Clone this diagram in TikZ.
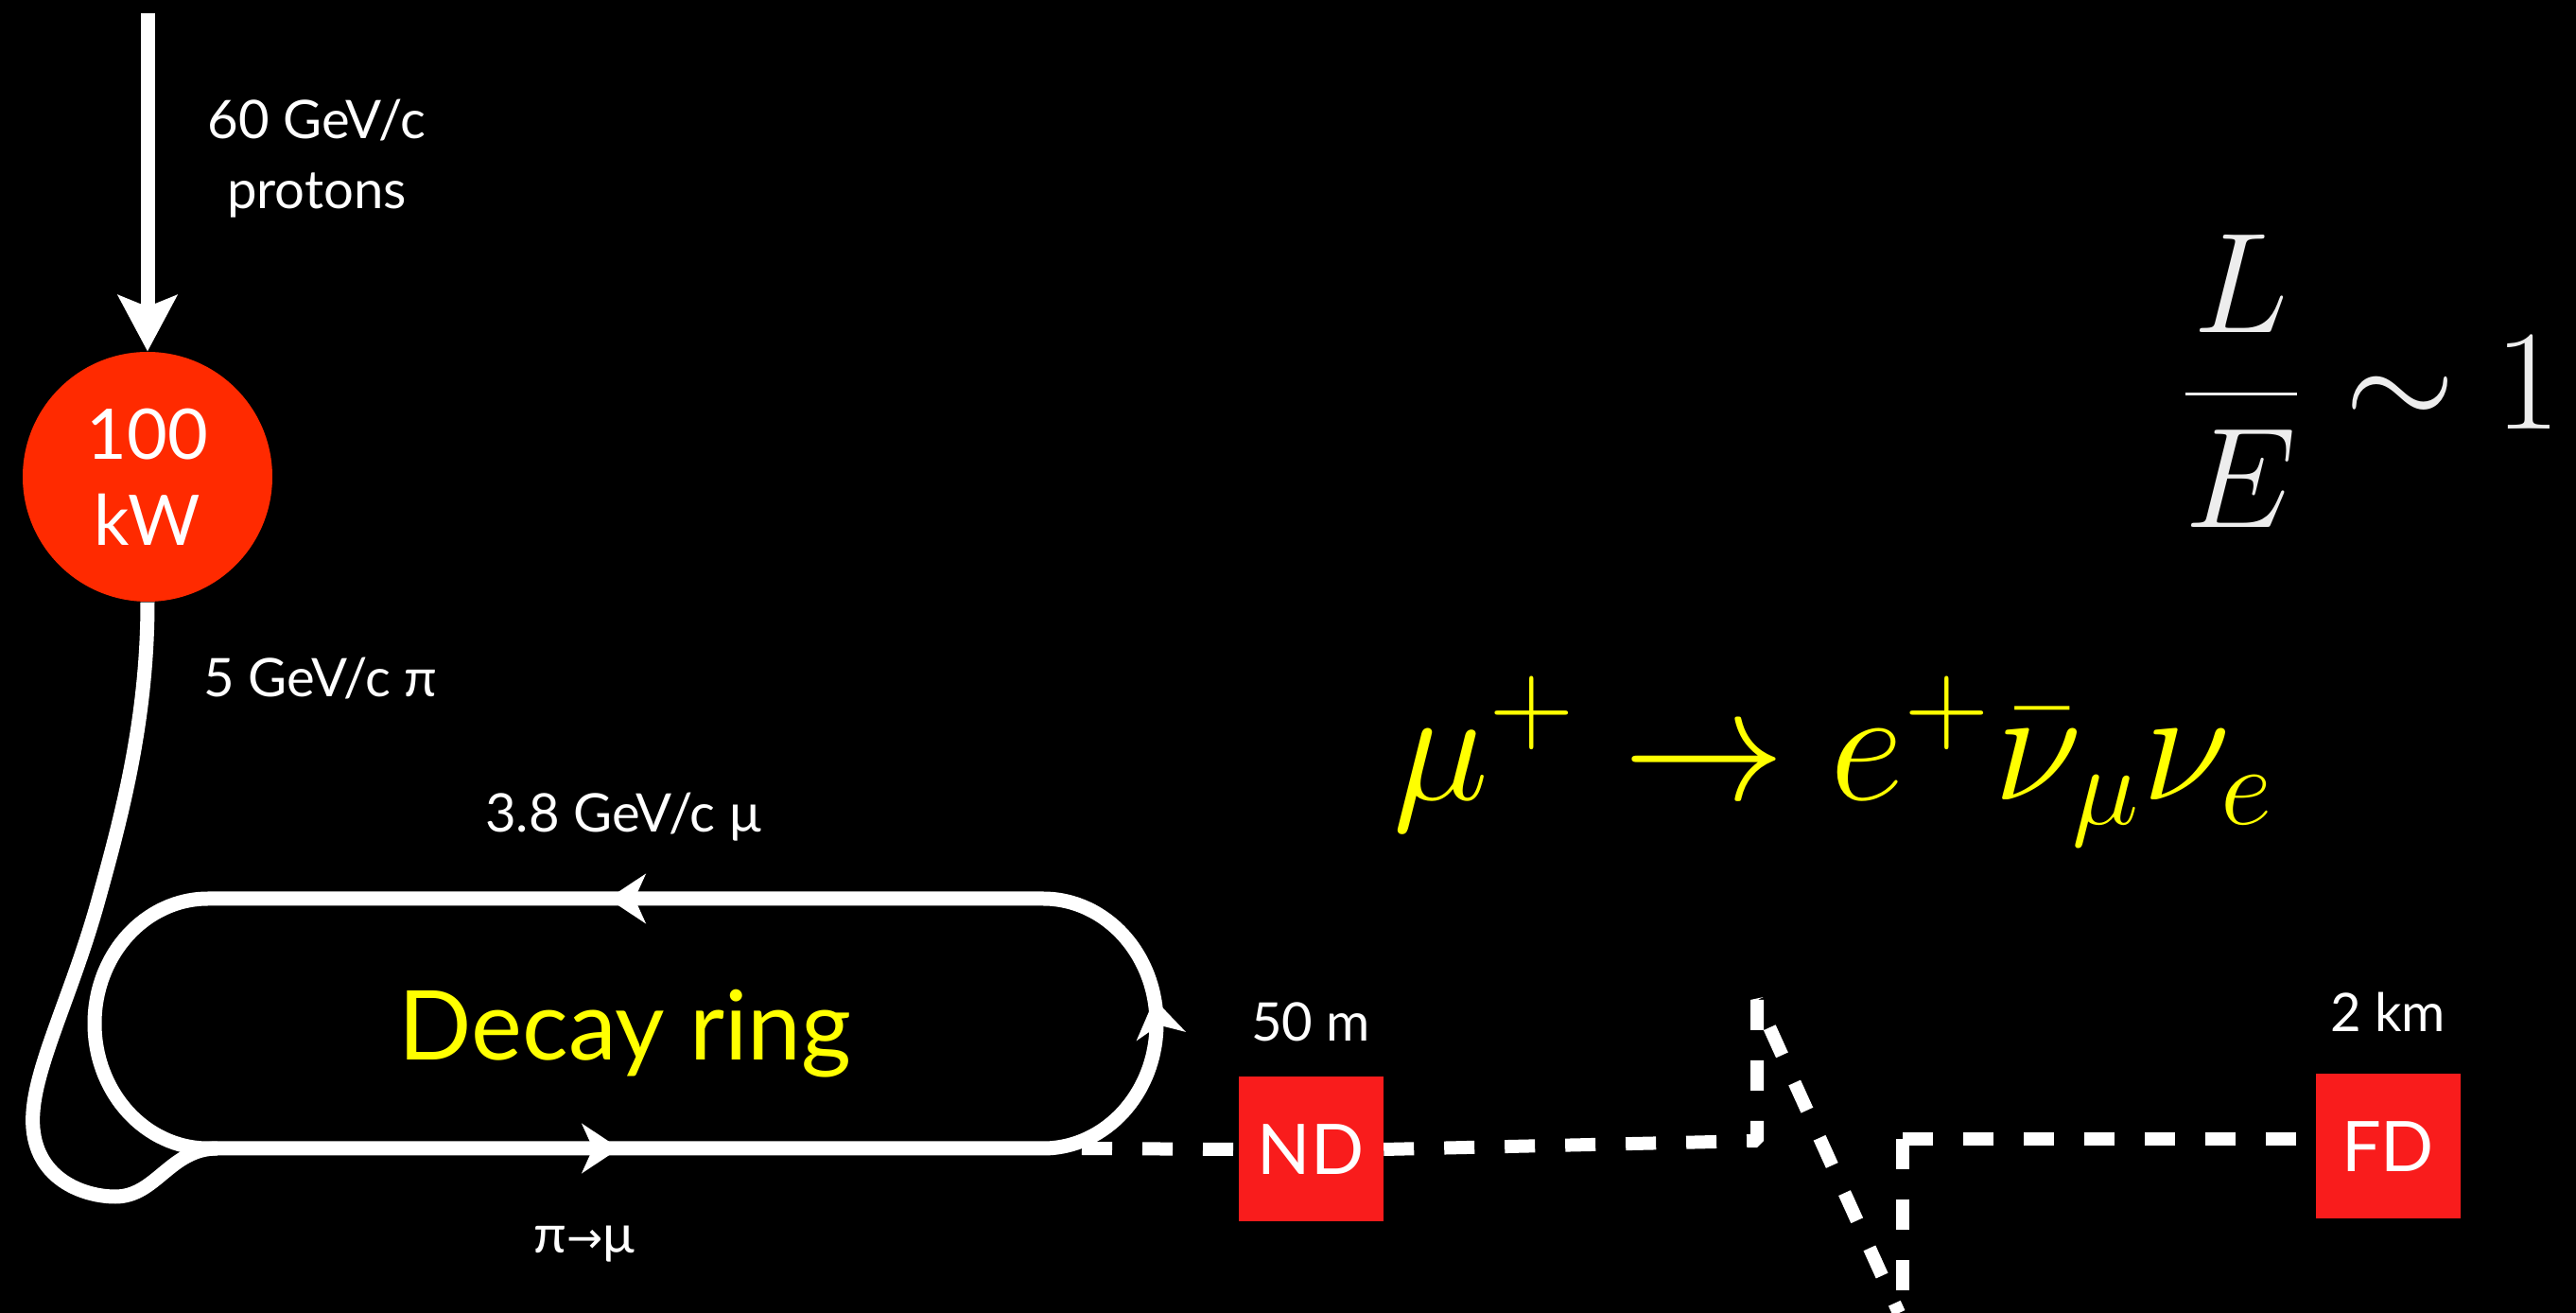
\documentclass[tikz,border=0pt]{standalone}
\usepackage{fontspec}
\setmainfont{Lato}
\newfontfamily\arrowfont{DejaVu Sans}
\usepackage{xcolor,tikz}
\usetikzlibrary{positioning,arrows.meta,decorations.markings}
\definecolor{hotred}{HTML}{FF2A00}
\definecolor{boxred}{HTML}{F91C1C}
\definecolor{ringyellow}{HTML}{FFFF00}
\tikzset{ringtip/.tip={Stealth[length=4mm,width=5.3mm,inset=1.2mm,line width=0.4pt]}}

\begin{document}
\begin{tikzpicture}[
 lbl/.style={text=white,font=\fontsize{16}{21}\selectfont,inner sep=0pt},
 det/.style={fill=boxred,minimum size=1.53cm,inner sep=0pt,text=white,font=\fontsize{21}{25}\selectfont},
 beam/.style={white,line width=1.5mm},
 dots/.style={white,line width=1.4mm,line join=bevel,dash pattern=on 3.2mm off 3.2mm}]
\fill[black] (0,0) rectangle (27.24,13.88);
\useasboundingbox (0,0) rectangle (27.24,13.88);
% target and detectors
\node[circle,fill=hotred,minimum size=2.64cm,inner sep=0pt,text=white,align=center,
 font=\fontsize{21}{26}\selectfont] (src) at (1.56,8.84) {100\\kW};
\node[det] (nd) at (13.86,1.73) {ND};
\node[det] (fd) at (25.25,1.76) {FD};
\coordinate (top) at (1.56,13.74);
\coordinate (rx) at (11.44,1.74);
\coordinate (b1) at (18.58,1.82);
\coordinate (b2) at (18.58,3.31);
\coordinate (b3) at (20.08,0);
\coordinate (b4) at (20.12,0);
\coordinate (b5) at (20.12,1.84);
% baseline to the detectors
\draw[dots] (rx) -- (nd.west);
\draw[dots] (nd.east) -- (b1) -- (b2) -- (b3);
\draw[dots] (b5) -- (b4);
\draw[dots] (b5) -- (b5 -| fd.west);
% decay ring
\draw[beam,postaction={decorate},decoration={markings,
 mark=at position 4.35cm with {\arrow{ringtip}},
 mark=at position 11.07cm with {\arrow{ringtip}},
 mark=at position 17.39cm with {\arrow{ringtip}}}]
 (2.2,1.74) -- (11.03,1.74) arc[start angle=-90,end angle=90,x radius=1.2,y radius=1.32]
 -- (2.2,4.38) arc[start angle=90,end angle=270,x radius=1.2,y radius=1.32] -- cycle;
\draw[beam] (src.south) .. controls (1.56,6.3) and (1.3,5.3) .. (1.05,4.4)
 .. controls (0.75,3.3) and (0.3,2.5) .. (0.35,1.95)
 .. controls (0.4,1.4) and (0.9,1.23) .. (1.22,1.23)
 .. controls (1.65,1.23) and (1.8,1.74) .. (2.3,1.74);
\draw[beam,-{Stealth[length=6mm,width=6.4mm,inset=1.3mm,line width=0.4pt]}] (top) -- (src.north);
% labels
\node[lbl,align=center] (pl) at (3.35,12.2) {60 GeV/c\\protons};
\node[lbl,anchor=base] (pil) at (3.39,6.51) {5 GeV/c π};
\node[lbl,anchor=base] (mul) at (6.59,5.08) {3.8 GeV/c μ};
\node[lbl,anchor=base] (pm) at (6.18,0.63) {π{\arrowfont\fontsize{13}{14}\selectfont →}μ};
\node[inner sep=0pt,anchor=base,text=ringyellow,font=\fontsize{29}{34}\selectfont] (dr) at (6.61,2.67) {Decay ring};
\node[lbl,above=0.36cm of nd] (ndl) {50 m};
\node[lbl,above=0.44cm of fd] (fdl) {2 km};
% formulas
\node[text=white!93!black,font=\huge,scale=2.07] (le) at (25.05,9.85) {$\displaystyle\frac{L}{E}\sim 1$};
\node[text=ringyellow,font=\huge,scale=2.35,anchor=base] (mu) at (19.4,5.42) {$\mu^+\rightarrow e^+\bar{\nu}_\mu\nu_e$};
\end{tikzpicture}
\end{document}
